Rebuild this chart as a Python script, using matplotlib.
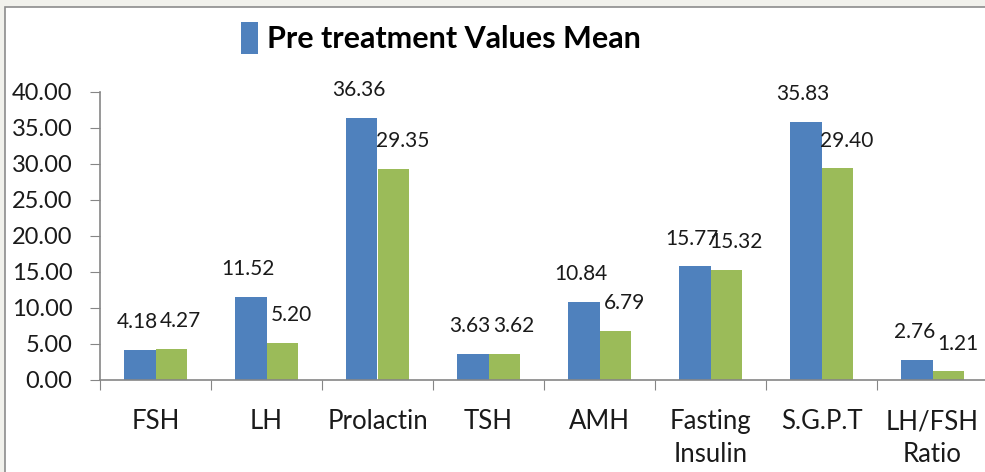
import matplotlib.pyplot as plt
import numpy as np
from matplotlib.patches import Rectangle

categories = ['FSH', 'LH', 'Prolactin', 'TSH', 'AMH', 'Fasting\nInsulin', 'S.G.P.T', 'LH/FSH\nRatio']
pre_values = [4.18, 11.52, 36.36, 3.63, 10.84, 15.77, 35.83, 2.76]
post_values = [4.27, 5.20, 29.35, 3.62, 6.79, 15.32, 29.40, 1.21]
y_ticks = [0, 5, 10, 15, 20, 25, 30, 35, 40]

BLUE = '#4F81BD'
GREEN = '#9BBB59'
AXIS = '#868686'
FONT = ['Lato', 'DejaVu Sans']


def main():
    fig = plt.figure(figsize=(9.85, 4.72), dpi=100)
    fig.patch.set_facecolor('#f1f1ec')
    # white chart area with a thin grey frame, cropped at right and bottom
    fig.patches.append(Rectangle((5 / 985, -0.1), 1.1, 1 - 7 / 472 + 0.1,
                                 transform=fig.transFigure, facecolor='white',
                                 edgecolor='#8c8c8c', linewidth=1.2, zorder=-5))

    ax = fig.add_axes([100 / 985, 1 - 380 / 472, 888 / 985, 288 / 472])
    ax.set_facecolor('none')
    ax.set_zorder(2)

    x = np.arange(len(categories))
    w = 0.28
    b1 = ax.bar(x - w / 2, pre_values, w, color=BLUE, label='Pre treatment Values Mean')
    b2 = ax.bar(x + w / 2, post_values, w, color=GREEN, label='Post treatment Values Mean')

    for rect, v in zip(b1, pre_values):
        ax.annotate(f'{v:.2f}', (rect.get_x() + rect.get_width() / 2, v),
                    xytext=(-2, 20), textcoords='offset points', ha='center', va='center',
                    fontsize=15, family=FONT, color='#1a1a1a')
    for rect, v in zip(b2, post_values):
        ax.annotate(f'{v:.2f}', (rect.get_x() + rect.get_width() / 2, v),
                    xytext=(7, 20), textcoords='offset points', ha='center', va='center',
                    fontsize=15, family=FONT, color='#1a1a1a')

    ax.set_xlim(-0.5, len(categories) - 0.5)
    ax.set_ylim(0, 40)
    ax.set_yticks(y_ticks)
    ax.set_yticklabels([f'{t:.2f}' for t in y_ticks], family=FONT, fontsize=17, color='#1a1a1a')
    ax.set_xticks(np.arange(len(categories) + 1) - 0.5)
    ax.set_xticklabels([])
    ax.set_xticks(x, minor=True)
    ax.set_xticklabels(categories, minor=True, family=FONT, fontsize=18.5,
                       color='#1a1a1a', linespacing=1.4, va='top')
    ax.tick_params(axis='x', which='minor', length=0, pad=21)
    ax.tick_params(axis='x', which='major', length=7, color=AXIS, direction='out')
    ax.tick_params(axis='y', length=7, color=AXIS, direction='out', pad=13)

    for s in ['top', 'right']:
        ax.spines[s].set_visible(False)
    for s in ['left', 'bottom']:
        ax.spines[s].set_color(AXIS)
        ax.spines[s].set_linewidth(1.2)

    fig.legend(handles=[b1], loc='center', bbox_to_anchor=(441 / 985, 1 - 38 / 472),
               frameon=False, handlelength=0.55, handleheight=1.2, handletextpad=0.3,
               prop={'family': FONT, 'weight': 'bold', 'size': 22})

    fig.savefig('out.png', dpi=100, facecolor=fig.get_facecolor())


if __name__ == '__main__':
    main()
